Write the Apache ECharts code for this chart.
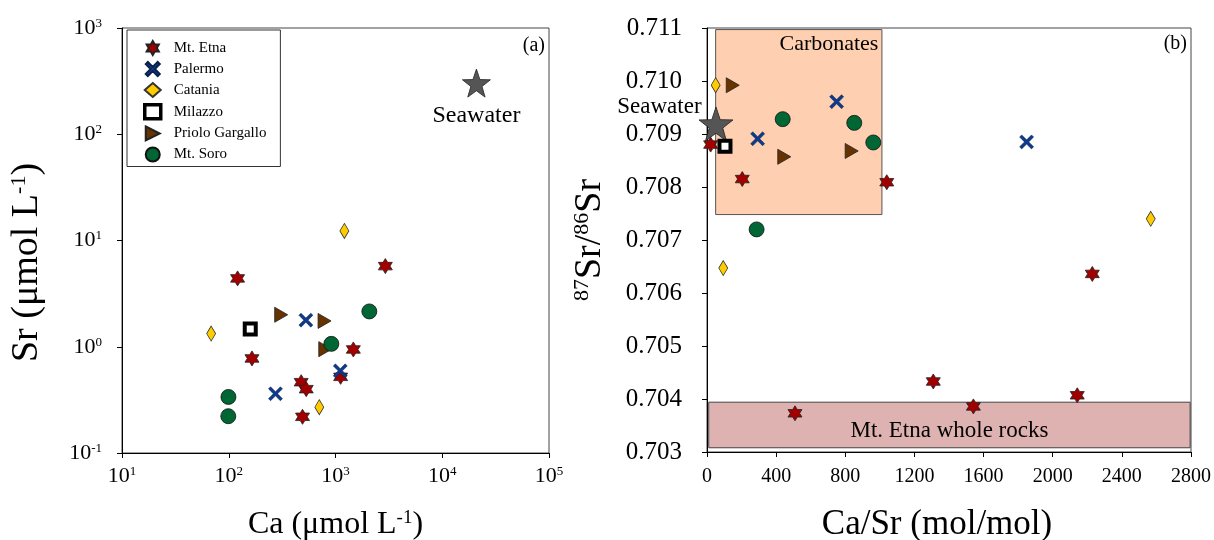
<!DOCTYPE html>
<html>
<head>
<meta charset="utf-8">
<script src="https://cdn.jsdelivr.net/npm/echarts@6/dist/echarts.min.js"></script>
<style>html,body{margin:0;padding:0;background:#fff}#c{width:1214px;height:540px}</style>
</head>
<body>
<div id="c"></div>
<script>
// ---------- Panel (a): Sr vs Ca (log-log) ----------
const etnaA     = [[121,4.40],[2930,5.74],[165,0.776],[1469,0.943],[477,0.464],[532,0.399],[1117,0.521],[491,0.219]];
const palermoA  = [[528,1.78],[1109,0.593],[274,0.361]];
const cataniaA  = [[1211,12.3],[68.4,1.33],[705,0.270]];
const milazzoA  = [[159,1.47]];
const prioloA   = [[310,2.0],[790,1.75],[802,0.949]];
const soroA     = [[2075,2.15],[914,1.065],[99.3,0.337],[99,0.222]];
const seawaterA = [[20900,303]];

// ---------- Panel (b): 87Sr/86Sr vs Ca/Sr ----------
const etnaB     = [[21,0.7088],[204,0.70815],[1040,0.70809],[2229,0.70636],[1309,0.70433],[2142,0.70407],[1541,0.70386],[509,0.70373]];
const palermoB  = [[750,0.70961],[293,0.70891],[1849,0.70885]];
const cataniaB  = [[50,0.70992],[2567,0.7074],[94,0.70647]];
const milazzoB  = [[104,0.70877]];
const prioloB   = [[149,0.70992],[447,0.70857],[837,0.70868]];
const soroB     = [[438,0.70928],[852,0.70921],[962,0.70884],[287,0.7072]];
const seawaterB = [[52,0.70919]];

const carbonatesBox = [[50,0.71097],[1012,0.70748]];
const etnaRocksBox  = [[10,0.70394],[2795,0.70308]];

const seriesNames = ['Mt. Etna','Palermo','Catania','Milazzo','Priolo Gargallo','Mt. Soro'];
const xTicksA = [10,100,1000,10000,100000];
const yTicksA = [0.1,1,10,100,1000];

const FONT = 'Liberation Serif';

const HEX = 'path://M0,-10 L2.887,-5 L8.66,-5 L5.774,0 L8.66,5 L2.887,5 L0,10 L-2.887,5 L-8.66,5 L-5.774,0 L-8.66,-5 L-2.887,-5 Z';
const XS  = 'path://M-10,-7 L-7,-10 L0,-3 L7,-10 L10,-7 L3,0 L10,7 L7,10 L0,3 L-7,10 L-10,7 L-3,0 Z';
const TRI = 'path://M0,0 L10,5 L0,10 Z';
const STAR5 = 'path://M0,-10 L2.35,-3.24 L9.51,-3.09 L3.80,1.24 L5.88,8.09 L0,4 L-5.88,8.09 L-3.80,1.24 L-9.51,-3.09 L-2.35,-3.24 Z';

const styles = {
  'Mt. Etna':        {symbol: HEX, symbolSize: [14,15], itemStyle: {color:'#A00000', borderColor:'#222', borderWidth:0.8, opacity:1}},
  'Palermo':         {symbol: XS, symbolSize: [14,14], itemStyle: {color:'#0E3A8C', borderColor:'#0a1f4a', borderWidth:0.5, opacity:1}},
  'Catania':         {symbol: 'diamond', symbolSize: [9,15], itemStyle: {color:'#FFCC00', borderColor:'#333', borderWidth:0.8, opacity:1}},
  'Milazzo':         {symbol: 'rect', symbolSize: [11,11], itemStyle: {color:'#FFFFFF', borderColor:'#000', borderWidth:4, opacity:1}},
  'Priolo Gargallo': {symbol: TRI, symbolSize: [13,15], itemStyle: {color:'#663300', borderColor:'#222', borderWidth:0.8, opacity:1}},
  'Mt. Soro':        {symbol: 'circle', symbolSize: 15, itemStyle: {color:'#006633', borderColor:'#111', borderWidth:0.8, opacity:1}}
};

function mk(name, data, xi, yi) {
  const s = styles[name];
  return {type:'scatter', name, data, xAxisIndex: xi, yAxisIndex: yi, z: 5,
    emphasis:{disabled:true}, symbol: s.symbol, symbolSize: s.symbolSize,
    itemStyle: Object.assign({}, s.itemStyle)};
}

const supRich = {
  b: {fontSize: 22, fontFamily: FONT, color:'#000'},
  s: {fontSize: 13, fontFamily: FONT, color:'#000', verticalAlign:'top', padding:[0,0,8,0]}
};

const axisCommon = {
  axisLine: {show:true, onZero:false, lineStyle:{color:'#000', width:1}},
  axisTick: {show:true, inside:false, length:5, lineStyle:{color:'#000'}},
  splitLine: {show:false},
  minorTick: {show:false},
  minorSplitLine: {show:false}
};

const chart = echarts.init(document.getElementById('c'), null, {renderer:'canvas'});
const option = {
  animation: false,
  backgroundColor: '#fff',
  textStyle: {fontFamily: FONT},
  grid: [
    {left:122, top:28, width:427, height:425, containLabel:false, outerBoundsMode:'none',
      show:true, borderColor:'#444', borderWidth:1, backgroundColor:'transparent'},
    {left:707, top:28, width:484, height:424, containLabel:false, outerBoundsMode:'none',
      show:true, borderColor:'#444', borderWidth:1, backgroundColor:'transparent'}
  ],
  legend: {
    data: seriesNames.map(n => n === 'Milazzo'
      ? {name:n, itemStyle:{borderWidth:3.5, borderColor:'#000', color:'#fff'}}
      : {name:n}),
    orient: 'vertical', left: 127, top: 30,
    padding: [10, 14, 4, 16],
    itemGap: 5, itemWidth: 16, itemHeight: 14,
    borderColor: '#333', borderWidth: 1,
    selectedMode: false,
    textStyle: {fontFamily: FONT, fontSize: 15, color:'#000', padding:[0,0,0,8]}
  },
  xAxis: [
    Object.assign({}, axisCommon, {
      gridIndex:0, type:'log', logBase:10, min: xTicksA[0], max: xTicksA[xTicksA.length-1],
      name: 'Ca (μmol L{s|-1})', nameLocation:'middle', nameGap: 56,
      nameTextStyle: {fontSize: 32, fontFamily: FONT, color:'#000',
        rich: {s:{fontSize:19, fontFamily:FONT, color:'#000', verticalAlign:'top', padding:[0,0,13,0]}}},
      axisLabel: {margin: 12, formatter: v => '{b|10}{s|' + Math.round(Math.log10(v)) + '}', rich: supRich}
    }),
    Object.assign({}, axisCommon, {
      gridIndex:1, type:'value', min:0, max:2800, interval:400,
      name: 'Ca/Sr (mol/mol)', nameLocation:'middle', nameGap: 55,
      nameTextStyle: {fontSize: 35, fontFamily: FONT, color:'#000', padding:[0,24,0,0]},
      axisLabel: {margin: 15, fontSize: 20, fontFamily: FONT, color:'#000', formatter: v => String(v)}
    })
  ],
  yAxis: [
    Object.assign({}, axisCommon, {
      gridIndex:0, type:'log', logBase:10, min: yTicksA[0], max: yTicksA[yTicksA.length-1],
      name: 'Sr (μmol L{s|-1})', nameLocation:'middle', nameGap: 76, nameRotate: 90,
      nameTextStyle: {fontSize: 38, fontFamily: FONT, color:'#000', padding:[0,44,0,0],
        rich: {s:{fontSize:22, fontFamily:FONT, color:'#000', verticalAlign:'top', padding:[0,0,16,0]}}},
      axisLabel: {margin: 20, formatter: v => '{b|10}{s|' + Math.round(Math.log10(v)) + '}', rich: supRich}
    }),
    Object.assign({}, axisCommon, {
      gridIndex:1, type:'value', min:0.703, max:0.711, interval:0.001,
      name: '{s|87}Sr/{s|86}Sr', nameLocation:'middle', nameGap: 98, nameRotate: 90,
      nameTextStyle: {fontSize: 38, fontFamily: FONT, color:'#000',
        rich: {s:{fontSize:22, fontFamily:FONT, color:'#000', verticalAlign:'top', padding:[0,0,16,0]}}},
      axisLabel: {margin: 25, fontSize: 25, fontFamily: FONT, color:'#000', formatter: v => v.toFixed(3)}
    })
  ],
  graphic: [
    {type:'text', right: 1214-545, top: 36, style:{text:'(a)', font:'20px "Liberation Serif"', fill:'#000'}},
    {type:'text', right: 1214-1187, top: 34, style:{text:'(b)', font:'20px "Liberation Serif"', fill:'#000'}}
  ],
  series: [
    // shaded reference fields (panel b)
    {type:'scatter', name:'fields', data:[], xAxisIndex:1, yAxisIndex:1, z:1, silent:true,
      markArea: {silent:true,
        itemStyle:{borderColor:'#555', borderWidth:1},
        data: [
          [{coord: carbonatesBox[0], name:'Carbonates', itemStyle:{color:'#FECFB0', borderColor:'#555', borderWidth:1, opacity:1},
            label:{show:true, position:'insideTopRight', distance:4, fontSize:22, fontFamily:FONT, color:'#000'}},
           {coord: carbonatesBox[1]}],
          [{coord: etnaRocksBox[0], name:'Mt. Etna whole rocks', itemStyle:{color:'#DFB2B2', borderColor:'#444', borderWidth:1, opacity:1},
            label:{show:true, position:'insideBottom', distance:6, fontSize:23, fontFamily:FONT, color:'#000'}},
           {coord: etnaRocksBox[1]}]
        ]}
    },
    mk('Mt. Etna', etnaA, 0, 0), mk('Palermo', palermoA, 0, 0), mk('Catania', cataniaA, 0, 0),
    mk('Milazzo', milazzoA, 0, 0), mk('Priolo Gargallo', prioloA, 0, 0), mk('Mt. Soro', soroA, 0, 0),
    {type:'scatter', name:'Seawater', data: seawaterA, xAxisIndex:0, yAxisIndex:0, z:5,
      emphasis:{disabled:true},
      symbol: STAR5, symbolSize: 28, itemStyle:{color:'#555555', borderColor:'#222', borderWidth:0.8, opacity:1},
      label:{show:true, position:'bottom', distance:6, formatter:'Seawater', fontSize:24, fontFamily:FONT, color:'#000'}},
    mk('Mt. Etna', etnaB, 1, 1), mk('Palermo', palermoB, 1, 1), mk('Catania', cataniaB, 1, 1),
    mk('Priolo Gargallo', prioloB, 1, 1), mk('Mt. Soro', soroB, 1, 1),
    {type:'scatter', name:'Seawater', data: seawaterB, xAxisIndex:1, yAxisIndex:1, z:6,
      emphasis:{disabled:true},
      symbol: STAR5, symbolSize: 34, itemStyle:{color:'#555555', borderColor:'#222', borderWidth:0.8, opacity:1},
      label:{show:true, position:'left', distance:0, offset:[3,-17], formatter:'Seawater', fontSize:23, fontFamily:FONT, color:'#000'}},
    Object.assign(mk('Milazzo', milazzoB, 1, 1), {z:7})
  ]
};
chart.setOption(option);
</script>
</body>
</html>
